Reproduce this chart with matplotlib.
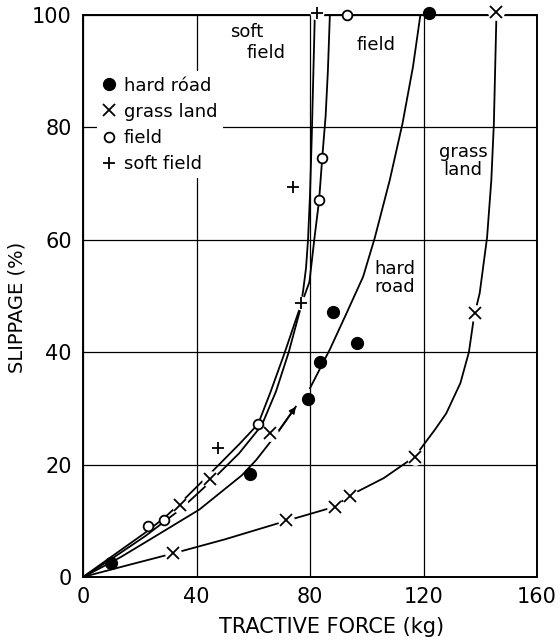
import matplotlib
matplotlib.use('Agg')
import matplotlib.pyplot as plt

# Measured points (tractive force kg, slippage %)
hard_road_x = [9.9, 59, 79.3, 83.5, 96.7, 88.1, 121.8]
hard_road_y = [2.5, 18.4, 31.6, 38.3, 41.6, 47.2, 100.3]
grass_x = [31.8, 34.2, 44.7, 65.8, 71.7, 88.7, 94, 116.9, 138, 145.7]
grass_y = [4.2, 12.8, 17.4, 25.6, 10.1, 12.5, 14.5, 21.4, 46.9, 100.6]
field_x = [23, 28.6, 61.7, 83.3, 84.3, 93.2]
field_y = [9.0, 10.1, 27.2, 67.1, 74.5, 100]
soft_x = [47.7, 74, 77, 82.3]
soft_y = [22.9, 69.4, 48.7, 100.3]

# Hand drawn curves
hard_low_x = [0, 5, 13.5, 25, 41, 56, 61, 68, 75]
hard_low_y = [0, 1.3, 3.6, 7.1, 12.0, 18.1, 20.8, 25.3, 30.3]
hard_up_x = [80, 87, 92.3, 98.7, 102.8, 108.1, 112.6, 116.3, 118.9]
hard_up_y = [33.6, 40.5, 46.3, 53.4, 60.3, 70.6, 80.7, 90.8, 100]
grass_cx = [0, 15, 31.8, 50, 71.7, 88.7, 94, 106, 116.9, 124, 128, 133,
            136, 137.8, 139.8, 142.4, 143.9, 144.8, 145.7]
grass_cy = [0, 2, 4.2, 6.7, 10, 12.5, 14.5, 17.6, 21.4, 26.2, 29.1, 34.5,
            40, 46.3, 50.5, 60.4, 70.6, 80.7, 100]
field_cx = [0, 10, 21.7, 28.6, 34.2, 45, 55, 61.7, 66, 71, 75.5, 79.8,
            81.5, 83.2, 84.3, 85.5, 86.3, 87]
field_cy = [0, 3.6, 7.8, 10.5, 13.1, 18.5, 23.6, 27.2, 32.8, 39.8, 46.5,
            52.5, 60, 67, 74.5, 82, 90, 100]
soft_cx = [0, 10, 22, 34.5, 45, 55, 63, 68, 72.5, 76.5, 77.6, 78.6, 79.3,
           80, 80.6, 81.1, 81.7]
soft_cy = [0, 3.2, 7.3, 12.1, 17.0, 22.0, 27.0, 33.0, 40.0, 47.5, 51, 55,
           60, 68, 78, 88, 100]

xticks = [0, 40, 80, 120, 160]
yticks = [0, 20, 40, 60, 80, 100]


def main():
    fig = plt.figure(figsize=(5.6, 6.4), dpi=100)
    ax = fig.add_axes([83 / 560, 63 / 640, 454 / 560, 562 / 640])
    ax.set_xlim(0, 160)
    ax.set_ylim(0, 100)
    ax.set_axisbelow(True)
    ax.grid(True, color='black', lw=0.9)
    for s in ax.spines.values():
        s.set_linewidth(1.4)
    ax.set_xticks(xticks)
    ax.set_yticks(yticks)
    ax.tick_params(length=0, labelsize=15)
    ax.tick_params(axis='x', pad=7)
    ax.tick_params(axis='y', pad=8)

    lw = 1.3
    ax.plot(hard_low_x, hard_low_y, color='black', lw=lw, zorder=2)
    ax.plot(hard_up_x, hard_up_y, color='black', lw=lw, zorder=2)
    ax.annotate('', xy=(hard_low_x[-1], hard_low_y[-1]),
                xytext=(hard_low_x[-2], hard_low_y[-2]),
                arrowprops=dict(arrowstyle='-|>', color='black', lw=lw,
                                mutation_scale=9, shrinkA=0, shrinkB=0))
    ax.plot(grass_cx, grass_cy, color='black', lw=lw, zorder=2)
    ax.plot(field_cx, field_cy, color='black', lw=lw, zorder=2)
    ax.plot(soft_cx, soft_cy, color='black', lw=lw, zorder=2)

    # white halos to break the lines round the crosses
    ax.plot(grass_x, grass_y, 'o', color='white', ms=11, zorder=3,
            clip_on=False)
    ax.plot(soft_x, soft_y, 'o', color='white', ms=9, zorder=3,
            clip_on=False)

    ax.plot(hard_road_x, hard_road_y, 'o', color='black', ms=8.5,
            zorder=4, clip_on=False, label='hard róad')
    ax.plot(grass_x, grass_y, 'x', color='black', ms=8, mew=1.3,
            zorder=4, clip_on=False, label='grass land')
    ax.plot(field_x, field_y, 'o', mfc='white', mec='black', ms=7,
            mew=1.3, zorder=4, clip_on=False, label='field')
    ax.plot(soft_x, soft_y, '+', color='black', ms=9, mew=1.3,
            zorder=4, clip_on=False, label='soft field')

    leg = ax.legend(loc='upper left', bbox_to_anchor=(0.03, 0.9),
                    fontsize=13, handlelength=0.8, handletextpad=0.4,
                    labelspacing=0.45, borderpad=0.3, borderaxespad=0,
                    frameon=True, fancybox=False, framealpha=1)
    leg.get_frame().set_edgecolor('none')

    fs = 13
    ax.text(57.7, 97, 'soft', fontsize=fs, ha='center', va='center')
    ax.text(64.4, 93.3, 'field', fontsize=fs, ha='center', va='center')
    ax.text(103.4, 94.6, 'field', fontsize=fs, ha='center', va='center')
    ax.text(134, 74, 'grass\nland', fontsize=fs, ha='center', va='center',
            linespacing=1.0)
    ax.text(110, 53.2, 'hard\nroad', fontsize=fs, ha='center', va='center',
            linespacing=0.95)

    ax.set_xlabel('TRACTIVE FORCE (kg)', fontsize=15)
    ax.xaxis.set_label_coords(0.547, -0.072)
    ax.set_ylabel('SLIPPAGE (%)', fontsize=14)
    ax.yaxis.set_label_coords(-0.125, 0.48)

    fig.savefig('out.png', dpi=100)


if __name__ == '__main__':
    main()
